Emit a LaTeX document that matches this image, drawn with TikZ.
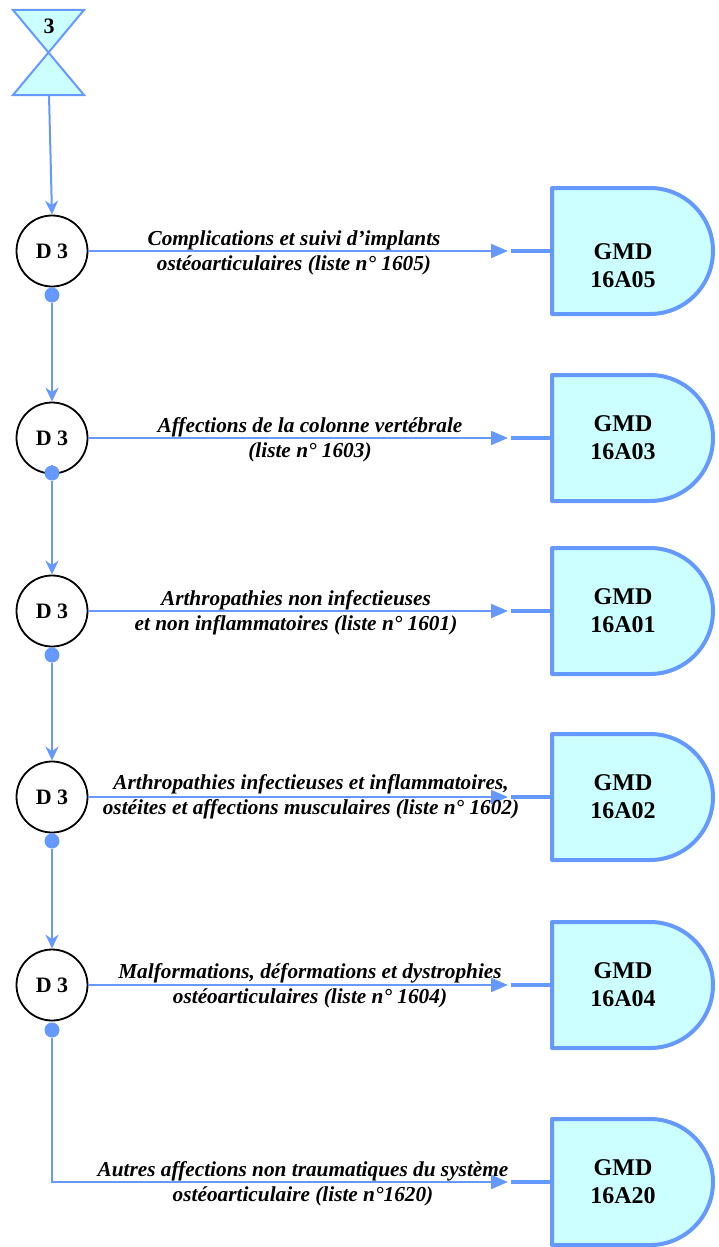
\documentclass[tikz,border=0pt]{standalone}
\usepackage{fontspec}
\setmainfont{Liberation Serif}
\usetikzlibrary{arrows.meta,positioning}

\definecolor{flowblue}{RGB}{102,153,255}
\definecolor{gmdcyan}{RGB}{204,255,255}

% GMD end shape: name, y of its axis
\newcommand{\gmdshape}[2]{
  \path[gmdbox] (552,#2+63) -- (650,#2+63) arc[start angle=90, end angle=-90, radius=63]
    -- (552,#2-63) -- cycle;
  \coordinate (#1) at (552,#2);
}

\begin{document}
\begin{tikzpicture}[x=1pt, y=1pt,
  decision/.style={circle, draw=black, line width=1.8pt, fill=white, minimum size=71pt,
    inner sep=0pt, font=\fontsize{22}{22}\selectfont\bfseries},
  joint/.style={circle, fill=flowblue, minimum size=15pt, inner sep=0pt},
  flow/.style={draw=flowblue, line width=2pt},
  downflow/.style={flow, -{Stealth[length=14pt, width=13pt]}},
  rightflow/.style={flow, -{Triangle[length=17pt, width=14pt]}},
  stub/.style={draw=flowblue, line width=4.5pt},
  listlabel/.style={align=center, inner sep=0pt, font=\fontsize{21.3}{25}\selectfont\bfseries\itshape},
  gmdlabel/.style={align=center, inner sep=0pt, font=\fontsize{24}{28}\selectfont\bfseries},
  gmdbox/.style={draw=flowblue, fill=gmdcyan, line width=4pt, line join=round},
  sandglass/.style={draw=flowblue, fill=gmdcyan, line width=2pt, line join=miter}
]
  \useasboundingbox (0,0) rectangle (718,-1247);

  % start connector
  \path[sandglass] (13,-10) -- (84,-10) -- (13,-95) -- (84,-95) -- cycle;
  \node[font=\fontsize{22}{22}\selectfont\bfseries] (start) at (49,-26) {3};
  \coordinate (startout) at (49,-95);

  % decisions
  \node[decision] (d1) at (52,-251) {D 3};
  \node[decision] (d2) at (52,-438) {D 3};
  \node[decision] (d3) at (52,-611) {D 3};
  \node[decision] (d4) at (52,-797) {D 3};
  \node[decision] (d5) at (52,-985) {D 3};

  \node[joint] (j1) at (52,-295) {};
  \node[joint] (j2) at (52,-473) {};
  \node[joint] (j3) at (52,-655) {};
  \node[joint] (j4) at (52,-841) {};
  \node[joint] (j5) at (52,-1030) {};

  % arrow tips in front of the GMD shapes
  \coordinate (t1) at (508,-251);
  \coordinate (t2) at (508,-438);
  \coordinate (t3) at (508,-611);
  \coordinate (t4) at (508,-797);
  \coordinate (t5) at (508,-985);
  \coordinate (t6) at (508,-1182);
  \coordinate (corner) at (52,-1182);

  % GMD shapes
  \gmdshape{g1}{-251}
  \gmdshape{g2}{-438}
  \gmdshape{g3}{-611}
  \gmdshape{g4}{-797}
  \gmdshape{g5}{-985}
  \gmdshape{g6}{-1182}

  \node[gmdlabel] (m1) at (623,-266) {GMD\\16A05};
  \node[gmdlabel] (m2) at (623,-438) {GMD\\16A03};
  \node[gmdlabel] (m3) at (623,-611) {GMD\\16A01};
  \node[gmdlabel] (m4) at (623,-797) {GMD\\16A02};
  \node[gmdlabel] (m5) at (623,-985) {GMD\\16A04};
  \node[gmdlabel] (m6) at (623,-1182) {GMD\\16A20};

  % vertical flow
  \draw[downflow] (startout) -- (d1.north);
  \draw[flow] (d1) -- (j1);
  \draw[downflow] (j1) -- (d2.north);
  \draw[flow] (d2) -- (j2);
  \draw[downflow] (j2) -- (d3.north);
  \draw[flow] (d3) -- (j3);
  \draw[downflow] (j3) -- (d4.north);
  \draw[flow] (d4) -- (j4);
  \draw[downflow] (j4) -- (d5.north);
  \draw[flow] (d5) -- (j5);

  % branches
  \draw[rightflow] (d1) -- (t1);
  \draw[rightflow] (d2) -- (t2);
  \draw[rightflow] (d3) -- (t3);
  \draw[rightflow] (d4) -- (t4);
  \draw[rightflow] (d5) -- (t5);
  \draw[rightflow] (j5) -- (corner) -- (t6);

  \draw[stub] (t1) ++(3,0) -- (g1);
  \draw[stub] (t2) ++(3,0) -- (g2);
  \draw[stub] (t3) ++(3,0) -- (g3);
  \draw[stub] (t4) ++(3,0) -- (g4);
  \draw[stub] (t5) ++(3,0) -- (g5);
  \draw[stub] (t6) ++(3,0) -- (g6);

  % list labels
  \node[listlabel] (l1) at (294,-253) {Complications et suivi d'implants\\ostéoarticulaires (liste n° 1605)};
  \node[listlabel] (l2) at (310,-440) {Affections de la colonne vertébrale\\(liste n° 1603)};
  \node[listlabel] (l3) at (296,-613) {Arthropathies non infectieuses\\et non inflammatoires (liste n° 1601)};
  \node[listlabel] (l4) at (311,-797) {Arthropathies infectieuses et inflammatoires,\\ostéites et affections musculaires (liste n° 1602)};
  \node[listlabel] (l5) at (310,-986) {Malformations, déformations et dystrophies\\ostéoarticulaires (liste n° 1604)};
  \node[listlabel] (l6) at (303,-1184) {Autres affections non traumatiques du système\\ostéoarticulaire (liste n°1620)};
\end{tikzpicture}
\end{document}
